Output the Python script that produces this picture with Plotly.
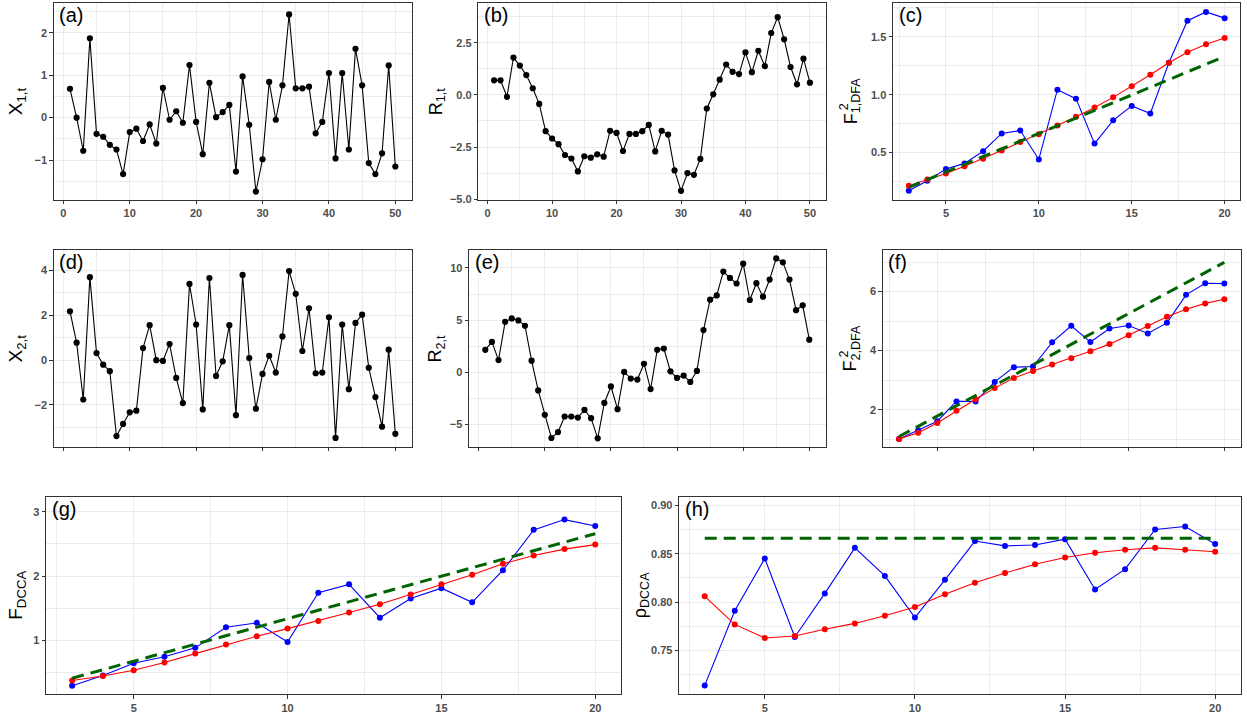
import plotly.graph_objects as go

W, H = 1247, 717
FONT = "Liberation Sans, Arial, Helvetica, sans-serif"

# ---------------- data ----------------
t = list(range(1, 51))
x1 = [0.68, 0.00, -0.78, 1.87, -0.38, -0.45, -0.64, -0.75, -1.33, -0.34,
      -0.26, -0.55, -0.16, -0.61, 0.70, -0.05, 0.15, -0.12, 1.24, -0.10,
      -0.86, 0.82, 0.01, 0.13, 0.30, -1.27, 0.97, -0.17, -1.74, -0.98,
      0.84, -0.05, 0.76, 2.43, 0.69, 0.69, 0.73, -0.37, -0.10, 1.05,
      -0.96, 1.05, -0.75, 1.62, 0.76, -1.07, -1.33, -0.84, 1.23, -1.15]
r1 = [0.70, 0.70, -0.09, 1.79, 1.41, 0.95, 0.32, -0.43, -1.74, -2.09,
      -2.36, -2.88, -3.05, -3.67, -2.94, -3.01, -2.85, -2.96, -1.72, -1.82,
      -2.69, -1.87, -1.87, -1.74, -1.44, -2.71, -1.72, -1.90, -3.62, -4.60,
      -3.75, -3.83, -3.07, -0.65, 0.03, 0.73, 1.46, 1.11, 1.00, 2.04,
      1.09, 2.12, 1.38, 2.97, 3.73, 2.67, 1.34, 0.51, 1.74, 0.59]
x2 = [2.17, 0.77, -1.76, 3.69, 0.31, -0.21, -0.50, -3.39, -2.85, -2.33,
      -2.26, 0.53, 1.55, -0.01, -0.04, 0.71, -0.80, -1.92, 3.39, 1.58,
      -2.20, 3.65, -0.71, -0.06, 1.55, -2.46, 3.79, 0.09, -2.17, -0.62,
      0.19, -0.56, 1.05, 3.96, 2.95, 0.40, 2.30, -0.59, -0.56, 1.90,
      -3.47, 1.58, -1.30, 1.65, 2.02, -0.35, -1.65, -2.97, 0.46, -3.29]
r2 = [2.15, 2.91, 1.17, 4.84, 5.16, 4.97, 4.46, 1.11, -1.74, -4.08,
      -6.30, -5.73, -4.24, -4.24, -4.34, -3.61, -4.40, -6.33, -2.94, -1.36,
      -3.54, 0.03, -0.60, -0.70, 0.82, -1.61, 2.15, 2.28, 0.09, -0.54,
      -0.32, -0.92, 0.13, 4.05, 6.96, 7.37, 9.65, 9.05, 8.51, 10.41,
      6.93, 8.54, 7.25, 8.89, 10.92, 10.54, 8.89, 5.95, 6.42, 3.13]

s = list(range(3, 21))
f1_emp = [0.17, 0.255, 0.358, 0.406, 0.511, 0.665, 0.690, 0.44, 1.043, 0.966,
          0.577, 0.778, 0.903, 0.838, 1.276, 1.64, 1.716, 1.662]
f1_avg = [0.213, 0.267, 0.318, 0.381, 0.446, 0.517, 0.591, 0.659, 0.733, 0.810,
          0.889, 0.977, 1.074, 1.173, 1.276, 1.367, 1.437, 1.491]
f1_th_s = [3, 20]
f1_th = [0.199, 1.33]

f2_emp = [1.01, 1.30, 1.61, 2.28, 2.28, 2.94, 3.44, 3.46, 4.28, 4.84,
          4.29, 4.75, 4.85, 4.58, 4.94, 5.89, 6.28, 6.27]
f2_avg = [1.01, 1.22, 1.55, 1.96, 2.35, 2.73, 3.07, 3.31, 3.53, 3.74,
          3.98, 4.22, 4.52, 4.83, 5.15, 5.40, 5.60, 5.74]
f2_th_s = [3, 20]
f2_th = [1.09, 6.99]

fd_emp = [0.29, 0.45, 0.64, 0.74, 0.88, 1.20, 1.27, 0.97, 1.74, 1.87,
          1.35, 1.65, 1.81, 1.59, 2.09, 2.72, 2.88, 2.78]
fd_avg = [0.37, 0.44, 0.53, 0.65, 0.79, 0.93, 1.06, 1.18, 1.30, 1.43,
          1.56, 1.71, 1.87, 2.02, 2.19, 2.32, 2.42, 2.49]
fd_th_s = [3, 20]
fd_th = [0.406, 2.66]

rho_emp = [0.714, 0.791, 0.845, 0.764, 0.809, 0.856, 0.827, 0.784, 0.823, 0.863,
           0.858, 0.859, 0.865, 0.813, 0.834, 0.875, 0.878, 0.860]
rho_avg = [0.806, 0.777, 0.763, 0.765, 0.772, 0.778, 0.786, 0.795, 0.808, 0.820,
           0.830, 0.839, 0.846, 0.851, 0.854, 0.856, 0.854, 0.852]
rho_th_s = [3, 20]
rho_th = [0.866, 0.866]

# ---------------- layout helpers ----------------
def xdom(a, b):
    return [a / W, b / W]


def ydom(top, bottom):
    return [1 - bottom / H, 1 - top / H]


series_panels = [
    dict(lab="(a)", xd=(53.7, 411.6), yd=(3, 201), yr=(-1.93, 2.70), yt=[-1, 0, 1, 2], ym=0.5, fmt="",
         xl=True, y=x1, title="X<sub>1,t</sub>", tsize=19, tx=17),
    dict(lab="(b)", xd=(478.3, 825.7), yd=(3, 201), yr=(-5.02, 4.41), yt=[-5, -2.5, 0, 2.5], ym=1.25, fmt=".1f",
         xl=True, y=r1, title="R<sub>1,t</sub>", tsize=18, tx=437),
    dict(lab="(d)", xd=(53.7, 411.6), yd=(252, 450), yr=(-3.87, 4.89), yt=[-2, 0, 2, 4], ym=1, fmt="",
         xl=False, y=x2, title="X<sub>2,t</sub>", tsize=19, tx=17),
    dict(lab="(e)", xd=(469.1, 825.5), yd=(252, 450), yr=(-7.15, 11.7), yt=[-5, 0, 5, 10], ym=2.5, fmt="",
         xl=False, y=r2, title="R<sub>2,t</sub>", tsize=18, tx=437),
]

scale_panels = [
    dict(lab="(c)", xd=(893, 1240.4), yd=(3, 201), yr=(0.093, 1.793), yt=[0.5, 1.0, 1.5], ym=0.25, fmt=".1f",
         xl=True, emp=f1_emp, avg=f1_avg, ths=f1_th_s, th=f1_th,
         title="F<sub>1,DFA</sub>", sup="2", tsize=18, tx=852),
    dict(lab="(f)", xd=(882.8, 1240.6), yd=(252, 450), yr=(0.74, 7.40), yt=[2, 4, 6], ym=1, fmt="",
         xl=False, emp=f2_emp, avg=f2_avg, ths=f2_th_s, th=f2_th,
         title="F<sub>2,DFA</sub>", sup="2", tsize=18, tx=852),
    dict(lab="(g)", xd=(46.0, 621.4), yd=(500, 699), yr=(0.158, 3.24), yt=[1, 2, 3], ym=0.5, fmt="",
         xl=True, emp=fd_emp, avg=fd_avg, ths=fd_th_s, th=fd_th,
         title="F<sub>DCCA</sub>", sup=None, tsize=19, tx=17.5),
    dict(lab="(h)", xd=(679.2, 1240.7), yd=(500, 699), yr=(0.705, 0.909), yt=[0.75, 0.80, 0.85, 0.90], ym=0.025,
         fmt=".2f", xl=True, emp=rho_emp, avg=rho_avg, ths=rho_th_s, th=rho_th,
         title="\u03c1<sub>DCCA</sub>", sup=None, tsize=18, tx=641),
]

fig = go.Figure()
layout = dict(width=W, height=H, autosize=False,
              margin=dict(l=0, r=0, t=0, b=0),
              paper_bgcolor="white", plot_bgcolor="white",
              showlegend=False, font=dict(family=FONT))
annotations = []

GRID = "#EBEBEB"
BORDER = "#333333"
TICKFONT = dict(family=FONT, size=11, color="#4D4D4D", weight="bold")


def axis_base():
    return dict(showline=True, mirror=True, linecolor=BORDER, linewidth=1,
                ticks="outside", ticklen=3.5, tickwidth=1, tickcolor=BORDER,
                showgrid=True, gridcolor=GRID, gridwidth=1.1, zeroline=False,
                tickfont=TICKFONT, fixedrange=True)


def add_axes(i, p, xr, xminor, xtv):
    sx = "" if i == 1 else str(i)
    xa = axis_base()
    xa.update(domain=xdom(*p["xd"]), range=list(xr), tickvals=xtv,
              showticklabels=p["xl"], anchor="y" + sx,
              minor=dict(dtick=xminor, tick0=0, showgrid=True, gridcolor=GRID, gridwidth=0.55, ticks=""))
    ya = axis_base()
    ya.update(domain=ydom(*p["yd"]), range=list(p["yr"]), tickvals=p["yt"],
              anchor="x" + sx,
              minor=dict(dtick=p["ym"], tick0=0, showgrid=True, gridcolor=GRID, gridwidth=0.55, ticks=""))
    if p["fmt"]:
        ya["tickformat"] = p["fmt"]
    layout["xaxis" + sx] = xa
    layout["yaxis" + sx] = ya
    return "x" + sx, "y" + sx


def add_label_and_title(p):
    left, right = p["xd"]
    top, bottom = p["yd"]
    annotations.append(dict(text=p["lab"], xref="paper", yref="paper",
                            x=(left + 3.5) / W, y=1 - (top - 1) / H,
                            xanchor="left", yanchor="top", showarrow=False,
                            font=dict(family=FONT, size=20, color="black")))
    cy = (top + bottom) / 2
    annotations.append(dict(text=p["title"], xref="paper", yref="paper",
                            x=p["tx"] / W, y=1 - cy / H, textangle=-90,
                            xanchor="center", yanchor="middle", showarrow=False,
                            font=dict(family=FONT, size=p["tsize"], color="black")))
    if p.get("sup"):
        annotations.append(dict(text=p["sup"], xref="paper", yref="paper",
                                x=(p["tx"] - 8) / W, y=1 - (cy + 6) / H, textangle=-90,
                                xanchor="center", yanchor="middle", showarrow=False,
                                font=dict(family=FONT, size=12.5, color="black")))


idx = 1
for p in series_panels:
    xa, ya = add_axes(idx, p, (-1.45, 52.45), 5, [0, 10, 20, 30, 40, 50])
    fig.add_trace(go.Scatter(x=t, y=p["y"], mode="lines+markers", xaxis=xa, yaxis=ya,
                             line=dict(color="black", width=1.1),
                             marker=dict(color="black", size=6.2), cliponaxis=False))
    add_label_and_title(p)
    idx += 1

for p in scale_panels:
    xa, ya = add_axes(idx, p, (2.15, 20.85), 2.5, [5, 10, 15, 20])
    fig.add_trace(go.Scatter(x=s, y=p["emp"], mode="lines+markers", xaxis=xa, yaxis=ya,
                             line=dict(color="#0000FF", width=1.1),
                             marker=dict(color="#0000FF", size=6)))
    fig.add_trace(go.Scatter(x=s, y=p["avg"], mode="lines+markers", xaxis=xa, yaxis=ya,
                             line=dict(color="#FF0000", width=1.1),
                             marker=dict(color="#FF0000", size=6)))
    fig.add_trace(go.Scatter(x=p["ths"], y=p["th"], mode="lines", xaxis=xa, yaxis=ya,
                             line=dict(color="#006400", width=3, dash="12px,7px")))
    add_label_and_title(p)
    idx += 1

layout["annotations"] = annotations
fig.update_layout(**layout)
fig.write_html("out.html")
